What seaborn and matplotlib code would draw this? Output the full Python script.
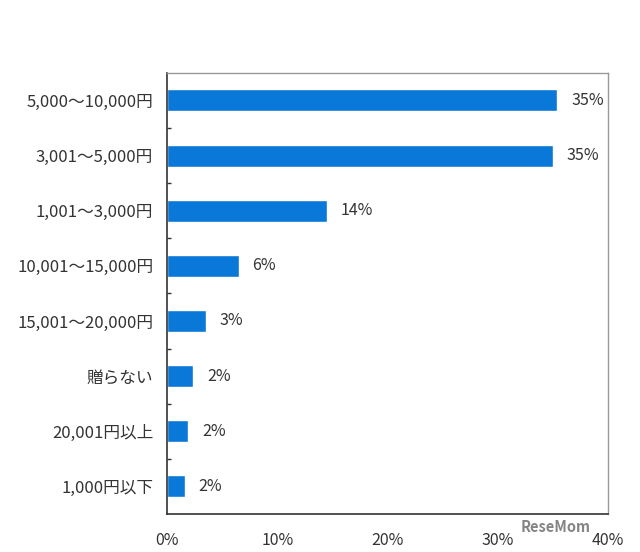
import matplotlib
matplotlib.use("Agg")
import matplotlib.pyplot as plt
import seaborn as sns
import pandas as pd
import numpy as np

categories = ["5,000〜10,000円", "3,001〜5,000円", "1,001〜3,000円", "10,001〜15,000円",
              "15,001〜20,000円", "贈らない", "20,001円以上", "1,000円以下"]
values = [35.4, 35.0, 14.5, 6.5, 3.5, 2.4, 1.9, 1.6]
value_labels = ["35%", "35%", "14%", "6%", "3%", "2%", "2%", "2%"]
x_ticks = [0, 10, 20, 30, 40]
x_tick_labels = ["0%", "10%", "20%", "30%", "40%"]

sns.set_theme(style="white")
plt.rcParams['font.family'] = ['Noto Sans CJK JP', 'DejaVu Sans']

df = pd.DataFrame({"cat": categories, "val": values})

fig = plt.figure(figsize=(6.4, 5.52), dpi=100)
ax = fig.add_axes([0.261, 0.069, 0.689, 0.799])
sns.barplot(data=df, y="cat", x="val", orient="h", color="#0a78d8",
            width=0.4, saturation=1, ax=ax, order=categories)

ax.set_xlim(0, 40)
ax.set_ylim(len(categories) - 0.5, -0.5)
ax.set_xlabel("")
ax.set_ylabel("")
ax.set_xticks(x_ticks)
ax.set_xticklabels(x_tick_labels, fontsize=11.5, color="#333333")
ax.tick_params(axis="x", direction="in", length=4, width=1, color="#333333", pad=13)
ax.set_yticks(np.arange(len(categories)))
ax.set_yticklabels(categories, fontsize=12, color="#333333")
ax.tick_params(axis="y", which="major", length=0, pad=10)
ax.set_yticks(np.arange(len(categories) - 1) + 0.5, minor=True)
ax.tick_params(axis="y", which="minor", direction="in", length=3, width=1, color="#333333", left=True)

for side in ["top", "right"]:
    ax.spines[side].set_color("#999999")
    ax.spines[side].set_linewidth(1)
for side in ["left", "bottom"]:
    ax.spines[side].set_color("#333333")
    ax.spines[side].set_linewidth(1.2)

for i, (v, lab) in enumerate(zip(values, value_labels)):
    ax.annotate(lab, xy=(v, i), xytext=(10, 0), textcoords="offset points",
                va="center", ha="left", fontsize=11.5, color="#333333")

fig.text(0.868, 0.045, "ReseMom", fontsize=10.5, color="#666666", alpha=0.8,
         fontweight="bold", ha="center", va="center")

fig.savefig("out.png", dpi=100)
